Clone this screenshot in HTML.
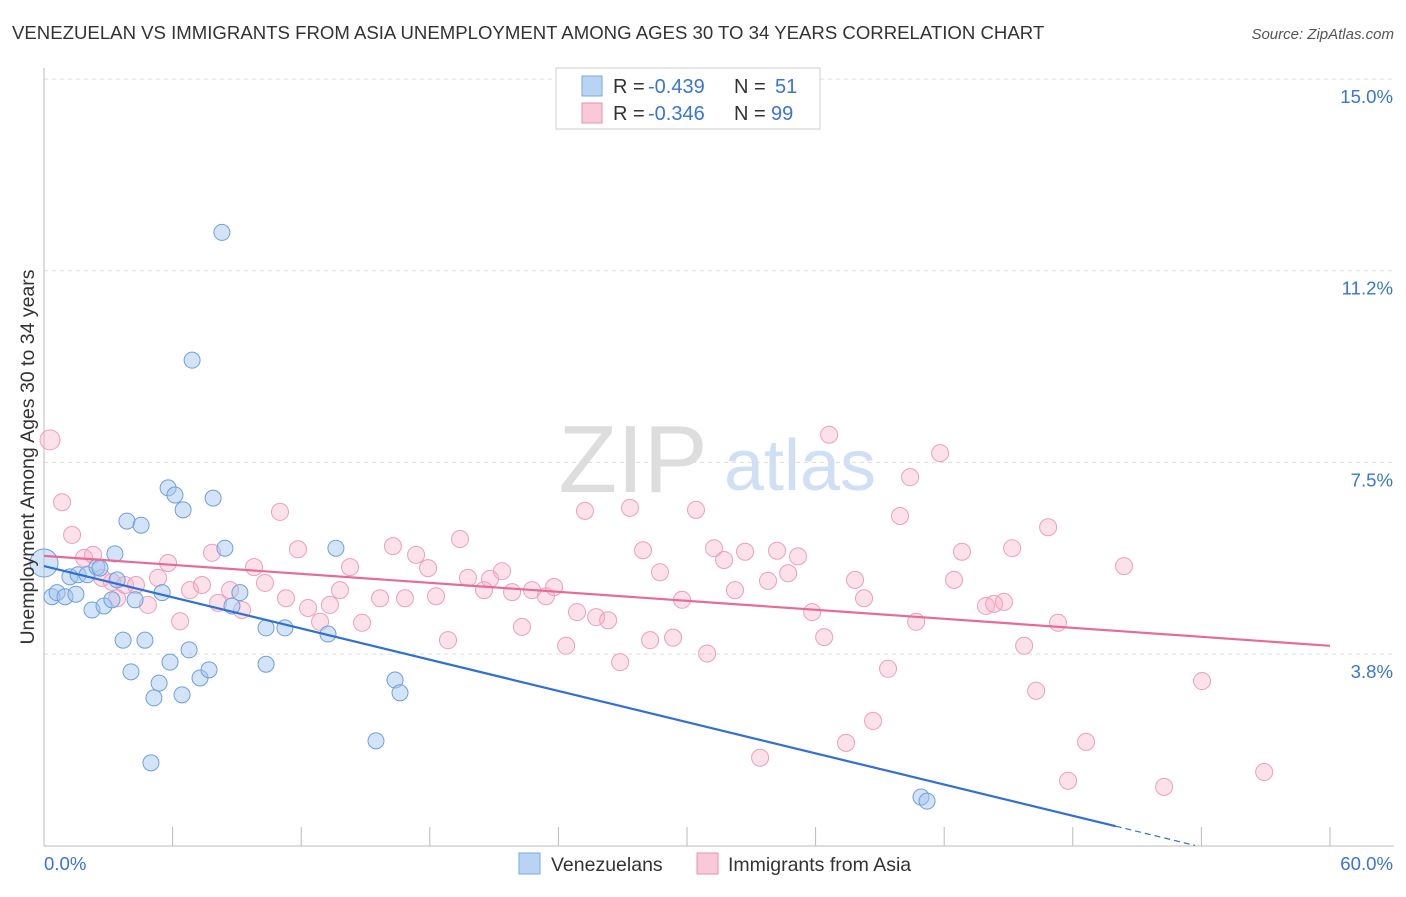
<!DOCTYPE html>
<html><head><meta charset="utf-8"><style>
body{margin:0;background:#fff;font-family:"Liberation Sans",sans-serif}
svg text{font-family:"Liberation Sans",sans-serif}
</style></head><body>
<svg id="chart" width="1406" height="892">
<text x="12" y="39" font-size="18.6" fill="#333">VENEZUELAN VS IMMIGRANTS FROM ASIA UNEMPLOYMENT AMONG AGES 30 TO 34 YEARS CORRELATION CHART</text>
<text x="1394" y="39" font-size="15" fill="#555" font-style="italic" text-anchor="end">Source: ZipAtlas.com</text>
<g>
<text x="633" y="492" font-size="96" fill="#ddd" font-family="Liberation Serif" text-anchor="middle">ZIP</text>
<text x="800" y="490" font-size="72" fill="#cfe0f5" text-anchor="middle">atlas</text>
</g>
<g id="grid"></g><g id="axes"></g><g id="pts"></g><g id="trends"></g>
<text transform="translate(34,457) rotate(-90)" font-size="19.5" fill="#333" text-anchor="middle">Unemployment Among Ages 30 to 34 years</text>
<g>
<rect x="556" y="68" width="264" height="61" fill="#fff" stroke="#ccc"/>
<rect x="582" y="76" width="20" height="20" fill="#b9d3f5" stroke="#7aa8e0"/>
<rect x="582" y="103" width="20" height="20" fill="#f9c9d8" stroke="#e890b0"/>
<text x="613" y="93" font-size="20" fill="#333">R =</text><text x="648" y="93" font-size="20" fill="#3a75d0">-0.439</text>
<text x="734" y="93" font-size="20" fill="#333">N =</text><text x="775" y="93" font-size="20" fill="#3a75d0">51</text>
<text x="613" y="120" font-size="20" fill="#333">R =</text><text x="648" y="120" font-size="20" fill="#3a75d0">-0.346</text>
<text x="734" y="120" font-size="20" fill="#333">N =</text><text x="771" y="120" font-size="20" fill="#3a75d0">99</text>
</g>
<g>
<rect x="519" y="853" width="21" height="21" fill="#b9d3f5" stroke="#7aa8e0"/>
<text x="551" y="871" font-size="19.5" fill="#333">Venezuelans</text>
<rect x="697" y="853" width="21" height="21" fill="#f9c9d8" stroke="#e890b0"/>
<text x="728" y="871" font-size="19.5" fill="#333">Immigrants from Asia</text>
</g>
</svg>
<script>
const yTicks=[3.8,7.5,11.2,15.0];
const yTickVals=[3.75,7.5,11.25,15.0];
const xTickLabels=["0.0%","60.0%"];
const blueX=[0.0,0.37,0.61,0.98,1.21,1.49,1.59,2.01,2.24,2.47,2.61,2.80,3.17,3.31,3.41,3.69,3.87,4.06,4.25,4.53,4.71,4.99,5.13,5.37,5.51,5.79,5.88,6.11,6.44,6.49,6.77,7.28,7.70,7.89,8.30,8.44,8.77,9.14,6.91,10.36,10.36,11.24,13.25,13.62,15.49,16.38,16.61,40.92,41.20];
const blueY=[5.53,4.87,4.95,4.87,5.26,4.92,5.30,5.30,4.61,5.45,5.43,4.69,4.81,5.71,5.20,4.02,6.35,3.40,4.81,6.27,4.02,1.62,2.89,3.18,4.95,7.00,3.59,6.86,2.95,6.57,3.83,3.28,3.44,6.80,12.0,5.82,4.69,4.95,9.50,4.26,3.55,4.26,4.14,5.82,2.05,3.24,2.99,0.95,0.87];
const pinkX=[0.28,0.84,1.31,1.87,2.29,2.71,3.17,3.41,3.78,4.29,4.85,5.32,5.79,6.35,6.81,7.37,7.84,8.12,8.68,9.24,9.80,10.31,11.01,11.29,11.85,12.32,12.88,13.34,13.81,14.28,14.84,15.68,16.28,16.84,17.36,17.92,18.29,18.85,19.41,19.78,20.53,20.81,21.37,21.84,22.30,22.77,23.42,23.80,24.36,24.87,25.24,25.76,26.32,26.88,27.34,27.95,28.28,28.74,29.35,29.77,30.42,30.94,31.26,31.73,32.24,32.71,33.41,33.78,34.20,34.72,35.18,35.84,36.40,36.63,37.42,37.84,38.26,38.68,39.38,39.94,40.41,40.69,41.81,42.46,42.83,43.95,44.33,44.79,45.17,45.73,46.29,46.85,47.31,47.78,48.62,50.39,52.26,54.03,56.93];
const pinkY=[7.94,6.72,6.08,5.63,5.69,5.24,5.16,4.84,5.10,5.10,4.71,5.24,5.53,4.39,5.00,5.10,5.73,4.75,5.00,4.61,5.45,5.14,6.53,4.84,5.80,4.65,4.38,4.71,5.00,5.45,4.36,4.84,5.86,4.84,5.69,5.43,4.88,4.02,6.00,5.24,5.00,5.22,5.37,4.96,4.28,5.00,4.88,5.06,3.91,4.57,6.55,4.47,4.41,3.59,6.61,5.78,4.02,5.35,4.07,4.81,6.57,3.76,5.82,5.59,5.00,5.75,1.72,5.18,5.77,5.33,5.66,4.57,4.08,8.04,2.01,5.20,4.84,2.44,3.46,6.45,7.21,4.38,7.68,5.20,5.75,4.69,4.73,4.77,5.82,3.91,3.03,6.23,4.36,1.27,2.03,5.47,1.15,3.22,1.44];
const blueTrend=[5.47,0.38];   // y at x=0 and x=50
const blueTrendX=[0,50,53.7];
const pinkTrend=[5.67,3.91];   // y at x=0 and x=60
const NS="http://www.w3.org/2000/svg";
const X=v=>44+v*21.433, Y=v=>845.6-v*51.1;
function mk(tag,attrs,parent){const e=document.createElementNS(NS,tag);for(const k in attrs)e.setAttribute(k,attrs[k]);document.getElementById(parent).appendChild(e);return e;}
yTickVals.forEach((v,i)=>{
  const l=mk('line',{x1:44,x2:1394,y1:Y(v),y2:Y(v),stroke:'#ddd','stroke-dasharray':'4,4'},'grid');
  
  
  const t=mk('text',{x:1393,y:Y(v)+24,'font-size':18.6,fill:'#3a75d0','text-anchor':'end'},'grid');
  t.textContent=yTicks[i].toFixed(1)+'%';
  
  
});
const ax=mk('line',{x1:44,x2:44,y1:68,y2:846,stroke:'#bbb'},'axes');


const bx=mk('line',{x1:44,x2:1394,y1:846,y2:846,stroke:'#bbb'},'axes');


for(let i=0;i<=10;i++){const t=mk('line',{x1:X(i*6),x2:X(i*6),y1:827,y2:846,stroke:'#bbb'},'axes');
  
  }
[[0,44,'start'],[60,1393,'end']].forEach((d,i)=>{const t=mk('text',{x:d[1],y:870,'font-size':18.6,fill:'#3a75d0','text-anchor':d[2]},'axes');t.textContent=xTickLabels[i];
  
  });
pinkX.forEach((x,i)=>{const c=mk('circle',{cx:X(x),cy:Y(pinkY[i]),r:i==0?10:8.5,fill:'rgba(245,170,195,0.35)',stroke:'#eaa0bc','stroke-width':1},'pts');
  
  });
blueX.forEach((x,i)=>{const c=mk('circle',{cx:X(x),cy:Y(blueY[i]),r:i==0?14:8,fill:'rgba(160,196,240,0.45)',stroke:'#6f9fdc','stroke-width':1},'pts');
  
  });
const slope=(blueTrend[1]-blueTrend[0])/50;
const b1=mk('line',{x1:X(blueTrendX[0]),y1:Y(blueTrend[0]),x2:X(blueTrendX[1]),y2:Y(blueTrend[1]),stroke:'#2f6fd6','stroke-width':2.2},'trends');


const b2=mk('line',{x1:X(blueTrendX[1]),y1:Y(blueTrend[1]),x2:X(blueTrendX[2]),y2:Y(blueTrend[0]+slope*blueTrendX[2]),stroke:'#2f6fd6','stroke-width':1.2,'stroke-dasharray':'6,4'},'trends');


const p1=mk('line',{x1:X(0),y1:Y(pinkTrend[0]),x2:X(60),y2:Y(pinkTrend[1]),stroke:'#e86a98','stroke-width':2.2},'trends');


</script>
</body></html>
